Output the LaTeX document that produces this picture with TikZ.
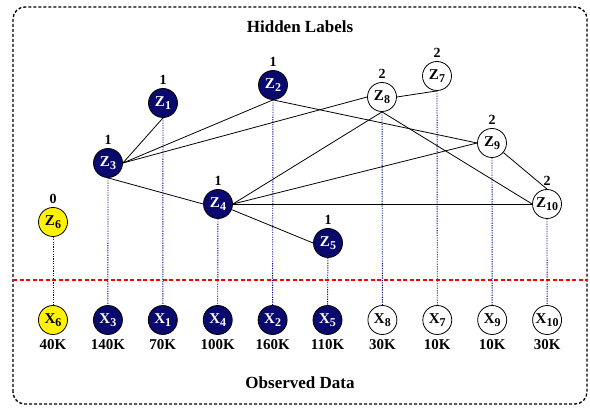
\documentclass[tikz,border=0pt]{standalone}
\usepackage{fontspec}
\setmainfont{Liberation Serif}
\usepackage{xcolor}
\usepackage{tikz}

\definecolor{navyfill}{RGB}{10,10,110}
\definecolor{dotblue}{RGB}{0,0,140}
\newcommand{\zsub}[1]{\raisebox{-2.5pt}{\fontsize{12}{12}\selectfont#1}}

\tikzset{
	zbase/.style={circle,draw=black,line width=0.8pt,minimum size=29pt,inner sep=0.5pt,font=\bfseries\fontsize{15}{16}\selectfont},
	hnode/.style={zbase,fill=navyfill,text=white},
	ynode/.style={zbase,fill=yellow,text=black},
	wnode/.style={zbase,fill=white,text=black},
	edge/.style={draw=black,line width=0.8pt},
	vline/.style={draw=dotblue,dash pattern=on 1.2pt off 1.2pt,line width=0.9pt},
}

\begin{document}
\begin{tikzpicture}[x=1pt,y=1pt,font=\bfseries\fontsize{14}{15}\selectfont,label distance=0pt]
	\useasboundingbox (0,0) rectangle (590,410);
	\draw[dash pattern=on 3pt off 2pt,line width=1.3pt,rounded corners=12pt] (13,6) rectangle (587,403);
	\node[font=\bfseries\fontsize{17}{18}\selectfont] (hidden) at (300,383) {Hidden Labels};
	\node[font=\bfseries\fontsize{17}{18}\selectfont] (observed) at (300,27) {Observed Data};
	\coordinate (cutl) at (13,130);
	\coordinate (cutr) at (587,130);
	\draw[red,dash pattern=on 4pt off 2.5pt,line width=1.8pt] (cutl) -- (cutr);

	% hidden label nodes
	\node[hnode,label=above:1] (z1) at (163,307) {Z\zsub{1}};
	\node[hnode,label=above:1] (z2) at (273,325) {Z\zsub{2}};
	\node[hnode,label=above:1] (z3) at (108,247) {Z\zsub{3}};
	\node[hnode,label=above:1] (z4) at (218,206) {Z\zsub{4}};
	\node[hnode,label=above:1] (z5) at (328,167) {Z\zsub{5}};
	\node[ynode,label=above:0] (z6) at (53,188) {Z\zsub{6}};
	\node[wnode,label=above:2] (z7) at (437,334) {Z\zsub{7}};
	\node[wnode,label=above:2] (z8) at (382,313) {Z\zsub{8}};
	\node[wnode,label=above:2] (z9) at (492,267) {Z\zsub{9}};
	\node[wnode,label=above:2] (z10) at (547,206) {Z\zsub{10}};

	% observed data nodes
	\foreach \n/\s/\v [count=\i] in {6/ynode/40K,3/hnode/140K,1/hnode/70K,4/hnode/100K,2/hnode/160K,5/hnode/110K,8/wnode/30K,7/wnode/10K,9/wnode/10K,10/wnode/30K}{
		\node[\s,label={[font=\bfseries\fontsize{15}{16}\selectfont,label distance=1pt]below:\v}] (x\n) at ({53+(\i-1)*54.9},90) {X\zsub{\n}};
		\draw[vline] (z\n) -- (x\n);
	}

	% links between hidden labels
	\draw[edge] (z3.east) -- (z1.south);
	\draw[edge] (z3.east) -- (z2.south);
	\draw[edge] (z3.east) -- (z8.west);
	\draw[edge] (z3.south) -- (z4.west);
	\draw[edge] (z2.south) -- (z9.west);
	\draw[edge] (z4.east) -- (z8.south);
	\draw[edge] (z4.east) -- (z9.west);
	\draw[edge] (z4.east) -- (z10.west);
	\draw[edge] (z4) -- (z5.west);
	\draw[edge] (z8.east) -- (z7.south);
	\draw[edge] (z8.south) -- (z10.west);
	\draw[edge] (z9) -- (z10.north);
\end{tikzpicture}
\end{document}
